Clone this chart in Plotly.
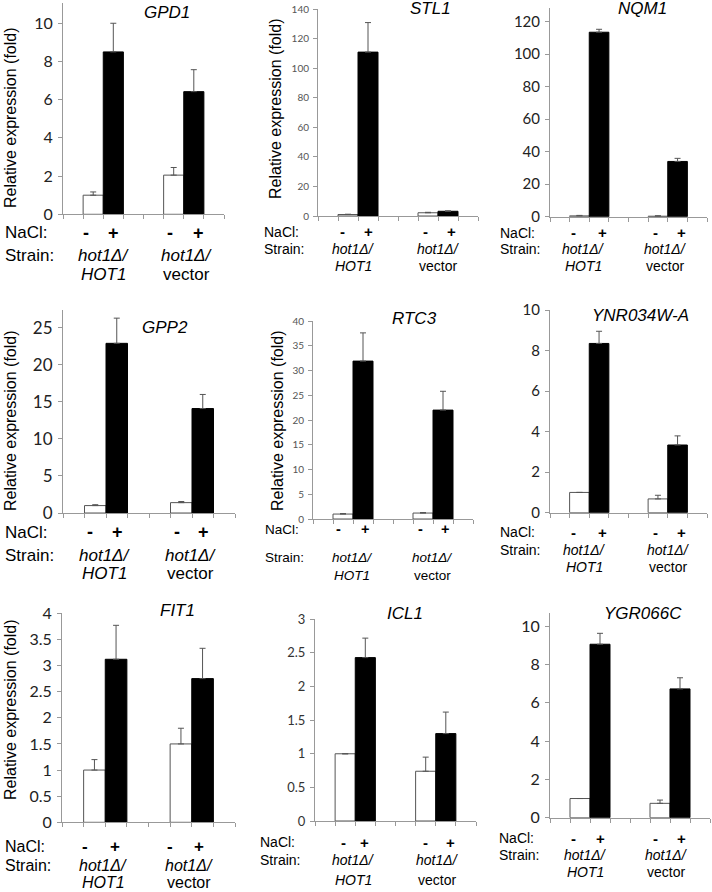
import plotly.graph_objects as go

W, H = 712, 892

genes = ["GPD1", "STL1", "NQM1", "GPP2", "RTC3", "YNR034W-A", "FIT1", "ICL1", "YGR066C"]

# hot1D/HOT1 strain, without (-) and with (+) NaCl
hot1_minus = [1.0, 1.0, 0.5, 1.0, 1.0, 1.0, 1.0, 1.0, 1.0]
hot1_minus_err = [0.17, 0.2, 0.3, 0.12, 0.1, 0.0, 0.2, 0.0, 0.0]
hot1_plus = [8.5, 111.0, 113.5, 22.9, 31.9, 8.35, 3.12, 2.43, 9.05]
hot1_plus_err = [1.5, 20.0, 1.8, 3.4, 5.7, 0.6, 0.65, 0.29, 0.57]
# hot1D/vector strain
vec_minus = [2.05, 2.2, 0.3, 1.4, 1.2, 0.68, 1.5, 0.74, 0.75]
vec_minus_err = [0.4, 0.3, 0.3, 0.15, 0.1, 0.18, 0.3, 0.21, 0.17]
vec_plus = [6.42, 3.2, 34.0, 14.1, 22.0, 3.34, 2.75, 1.30, 6.72]
vec_plus_err = [1.15, 0.3, 1.9, 1.9, 3.8, 0.45, 0.58, 0.32, 0.58]

y_max = [11.06, 140, 128.4, 27.4, 40, 10, 4, 3, 10.68]
y_dtick = [2, 20, 20, 5, 5, 2, 0.5, 0.5, 2]
show_ytitle = [True, True, False, True, True, False, True, False, False]

# pixel layout of each panel: axis left, axis right, top, baseline
boxes = [
    (63, 224, 3, 214.3), (318, 478, 9.3, 216), (550, 707, 8, 216.7),
    (63, 235, 310, 513), (313, 473, 321, 519), (550, 707, 310, 512.7),
    (62, 235, 613.3, 822.3), (315, 476, 619.3, 821), (550, 710, 613, 817.7),
]
tick_font = [16, 10, 15, 17, 10, 15, 16, 13, 16]
tick_color = ["#222", "#555", "#222", "#222", "#555", "#222", "#222", "#333", "#222"]
title_pos = [(167, 13), (430, 8), (642, 9), (165, 328), (415, 318), (640, 315),
             (177, 610), (405, 613), (643, 613)]
ytitle_pos = [(10, 118), (276, 109), None, (10, 421), (277, 421), None, (10, 710), None, None]
# bottom labels: NaCl x-left, NaCl y, sign xs, Strain y, strain name xs, second line y, font
labels = [
    (3, 233, (86, 113, 170, 198), 255, (103, 186), 275, 17),
    (262, 232, (342, 368, 425, 451), 249, (353, 438), 266, 14),
    (498, 233, (573, 602, 655, 681), 249, (583, 665), 266, 14),
    (3, 532, (90, 117, 177, 204), 555, (104, 190), 573, 17),
    (263, 529, (338, 365, 420, 445), 557, (352, 432), 575, 13.5),
    (498, 532, (573, 602, 655, 681), 550, (584, 668), 567, 14),
    (3, 846, (85, 115, 170, 199), 865, (103, 189), 882, 16),
    (258, 842, (343, 365, 425, 450), 860, (353, 437), 880, 14),
    (497, 838, (573, 600, 655, 681), 855, (585, 666), 872, 14),
]

fig = go.Figure()
ann = []


def px(x):
    return x / W


def py(y):
    return 1 - y / H


for i, g in enumerate(genes):
    n = "" if i == 0 else str(i + 1)
    xa, ya = "x" + n, "y" + n
    fig.add_trace(go.Bar(
        x=[1.5, 5.5], y=[hot1_minus[i], vec_minus[i]], width=1, xaxis=xa, yaxis=ya,
        marker=dict(color="white", line=dict(color="#555", width=1)),
        error_y=dict(type="data", symmetric=False, array=[hot1_minus_err[i], vec_minus_err[i]],
                     arrayminus=[0, 0], color="#555", thickness=1, width=3),
        showlegend=False))
    fig.add_trace(go.Bar(
        x=[2.5, 6.5], y=[hot1_plus[i], vec_plus[i]], width=1, xaxis=xa, yaxis=ya,
        marker=dict(color="black", line=dict(color="black", width=1)),
        error_y=dict(type="data", symmetric=False, array=[hot1_plus_err[i], vec_plus_err[i]],
                     arrayminus=[0, 0], color="#555", thickness=1, width=3),
        showlegend=False))

    x0, x1, top, base = boxes[i]
    fig.layout["xaxis" + n] = dict(
        domain=[px(x0), px(x1)], anchor=ya, range=[0, 8], tick0=0, dtick=1,
        showticklabels=False, ticks="outside", ticklen=4, tickcolor="#999", automargin=False,
        showline=True, linecolor="#999", linewidth=1, showgrid=False, zeroline=False, fixedrange=True)
    fig.layout["yaxis" + n] = dict(
        domain=[py(base), py(top)], anchor=xa, range=[0, y_max[i]], tick0=0, dtick=y_dtick[i],
        ticks="outside", ticklen=4, tickcolor="#999", showline=True, linecolor="#999", linewidth=1,
        showgrid=False, zeroline=False, ticklabelstandoff=2, automargin=False,
        tickfont=dict(family="Lato", size=tick_font[i], color=tick_color[i]))

    tx, ty = title_pos[i]
    ann.append(dict(x=px(tx), y=py(ty), text="<i>" + g + "</i>", font=dict(size=17)))
    if show_ytitle[i]:
        yx, yy = ytitle_pos[i]
        ann.append(dict(x=px(yx), y=py(yy), text="Relative expression (fold)", textangle=-90,
                        font=dict(size=16)))

    nx, ny, signs, sy, sxs, ly, fs = labels[i]
    ann.append(dict(x=px(nx), y=py(ny), text="NaCl:", xanchor="left", font=dict(size=fs)))
    ann.append(dict(x=px(nx), y=py(sy), text="Strain:", xanchor="left", font=dict(size=fs)))
    for k, s in enumerate(["-", "+", "-", "+"]):
        ann.append(dict(x=px(signs[k]), y=py(ny), text="<b>" + s + "</b>", font=dict(size=fs + 1)))
    for k, name in enumerate(["<i>HOT1</i>", "vector"]):
        ann.append(dict(x=px(sxs[k]), y=py(sy), text="<i>hot1Δ/</i>", font=dict(size=fs)))
        ann.append(dict(x=px(sxs[k]), y=py(ly), text=name, font=dict(size=fs)))

for a in ann:
    a.update(xref="paper", yref="paper", showarrow=False)
    a.setdefault("xanchor", "center")
    a.setdefault("yanchor", "middle")
    a["font"].setdefault("family", "Liberation Sans, Arial")
    a["font"].setdefault("color", "black")

fig.update_layout(
    width=W, height=H, margin=dict(l=0, r=0, t=0, b=0, pad=0, autoexpand=False),
    paper_bgcolor="white", plot_bgcolor="white",
    annotations=ann, barmode="overlay",
    font=dict(family="Liberation Sans, Arial", color="black"),
)

# the page body has a default 8px margin; drop it so the figure sits at the corner
fig.write_html("out.html", config={"displayModeBar": False},
               post_script="document.body.style.margin = '0px';")
